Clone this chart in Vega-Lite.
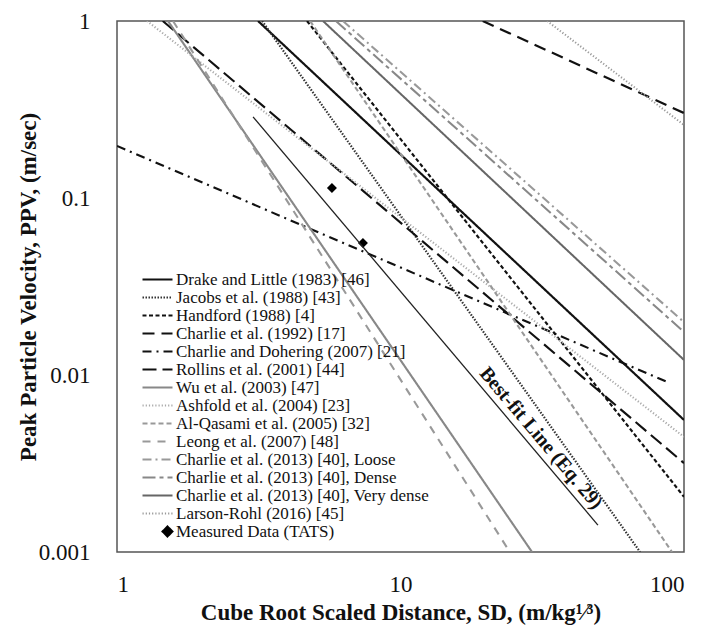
{
  "$schema": "https://vega.github.io/schema/vega-lite/v6.json",
  "width": 567,
  "height": 531,
  "autosize": {"type": "none"},
  "padding": {"left": 117, "top": 21, "right": 21, "bottom": 73},
  "background": "white",
  "config": {
    "font": "Liberation Serif",
    "view": {"stroke": "#555", "strokeWidth": 1.5},
    "axis": {
      "grid": false,
      "domain": false,
      "ticks": false,
      "labelFont": "Liberation Serif",
      "labelFontSize": 23,
      "labelColor": "#111",
      "titleFont": "Liberation Serif",
      "titleFontSize": 23,
      "titleFontWeight": "bold",
      "titleColor": "#111"
    },
    "legend": {
      "orient": "none", "legendX": 42, "legendY": 250,
      "title": null, "padding": 0,
      "labelFont": "Liberation Serif", "labelFontSize": 17, "labelColor": "#111",
      "labelLimit": 400, "symbolSize": 100, "rowPadding": 0, "labelOffset": 0
    }
  },
  "datasets": {
    "curves": [
      {"series": "Drake and Little (1983) [46]", "sd": 3.144, "ppv": 1},
      {"series": "Drake and Little (1983) [46]", "sd": 100, "ppv": 0.00557},
      {"series": "Jacobs et al. (1988) [43]", "sd": 3.25, "ppv": 1},
      {"series": "Jacobs et al. (1988) [43]", "sd": 70, "ppv": 0.001},
      {"series": "Handford (1988) [4]", "sd": 4.68, "ppv": 1},
      {"series": "Handford (1988) [4]", "sd": 100, "ppv": 0.00205},
      {"series": "Charlie et al. (1992) [17]", "sd": 19.5, "ppv": 1},
      {"series": "Charlie et al. (1992) [17]", "sd": 100, "ppv": 0.302},
      {"series": "Charlie and Dohering (2007) [21]", "sd": 1, "ppv": 0.197},
      {"series": "Charlie and Dohering (2007) [21]", "sd": 89.2, "ppv": 0.009},
      {"series": "Rollins et al. (2001) [44]", "sd": 1.45, "ppv": 1},
      {"series": "Rollins et al. (2001) [44]", "sd": 100, "ppv": 0.00318},
      {"series": "Wu et al. (2003) [47]", "sd": 1.513, "ppv": 1},
      {"series": "Wu et al. (2003) [47]", "sd": 29.1, "ppv": 0.001},
      {"series": "Ashfold et al. (2004) [23]", "sd": 1.276, "ppv": 1},
      {"series": "Ashfold et al. (2004) [23]", "sd": 100, "ppv": 0.00447},
      {"series": "Al-Qasami et al. (2005) [32]", "sd": 4.8, "ppv": 1},
      {"series": "Al-Qasami et al. (2005) [32]", "sd": 90.7, "ppv": 0.001},
      {"series": "Leong et al. (2007) [48]", "sd": 1.576, "ppv": 1},
      {"series": "Leong et al. (2007) [48]", "sd": 24.3, "ppv": 0.001},
      {"series": "Charlie et al. (2013) [40], Loose", "sd": 6.27, "ppv": 1},
      {"series": "Charlie et al. (2013) [40], Loose", "sd": 100, "ppv": 0.0199},
      {"series": "Charlie et al. (2013) [40], Dense", "sd": 5.92, "ppv": 1},
      {"series": "Charlie et al. (2013) [40], Dense", "sd": 100, "ppv": 0.0175},
      {"series": "Charlie et al. (2013) [40], Very dense", "sd": 5.33, "ppv": 1},
      {"series": "Charlie et al. (2013) [40], Very dense", "sd": 100, "ppv": 0.01216},
      {"series": "Larson-Rohl (2016) [45]", "sd": 32.9, "ppv": 1},
      {"series": "Larson-Rohl (2016) [45]", "sd": 100, "ppv": 0.2585}
    ],
    "measured": [
      {"series": "Measured Data (TATS)", "sd": 5.73, "ppv": 0.114},
      {"series": "Measured Data (TATS)", "sd": 7.37, "ppv": 0.0557}
    ],
    "bestfit": [
      {"sd": 3.02, "ppv": 0.287},
      {"sd": 49.7, "ppv": 0.00142}
    ],
    "annot": [
      {"sd": 31.3, "ppv": 0.0044, "label": "Best-fit Line (Eq. 29)"}
    ],
    "xticks": [
      {"sd": 2}, {"sd": 3}, {"sd": 4}, {"sd": 5}, {"sd": 6}, {"sd": 7}, {"sd": 8}, {"sd": 9},
      {"sd": 10}, {"sd": 20}, {"sd": 30}, {"sd": 40}, {"sd": 50}, {"sd": 60}, {"sd": 70}, {"sd": 80}, {"sd": 90}
    ],
    "yticks": [
      {"ppv": 0.002}, {"ppv": 0.003}, {"ppv": 0.004}, {"ppv": 0.005}, {"ppv": 0.006}, {"ppv": 0.007}, {"ppv": 0.008}, {"ppv": 0.009},
      {"ppv": 0.01}, {"ppv": 0.02}, {"ppv": 0.03}, {"ppv": 0.04}, {"ppv": 0.05}, {"ppv": 0.06}, {"ppv": 0.07}, {"ppv": 0.08}, {"ppv": 0.09},
      {"ppv": 0.1}, {"ppv": 0.2}, {"ppv": 0.3}, {"ppv": 0.4}, {"ppv": 0.5}, {"ppv": 0.6}, {"ppv": 0.7}, {"ppv": 0.8}, {"ppv": 0.9}
    ]
  },
  "encoding": {
    "x": {
      "field": "sd", "type": "quantitative",
      "scale": {"type": "log", "domain": [1, 100], "nice": false},
      "axis": {
        "orient": "bottom",
        "values": [1, 10, 100],
        "format": "~g",
        "labelPadding": 21,
        "titlePadding": 5,
        "title": "Cube Root Scaled Distance, SD, (m/kg¹⁄³)"
      }
    },
    "y": {
      "field": "ppv", "type": "quantitative",
      "scale": {"type": "log", "domain": [0.001, 1], "nice": false},
      "axis": {
        "orient": "left",
        "values": [0.001, 0.01, 0.1, 1],
        "format": "~g",
        "labelPadding": 27,
        "titlePadding": -2,
        "title": "Peak Particle Velocity, PPV,  (m/sec)"
      }
    }
  },
  "layer": [
    {
      "data": {"name": "curves"},
      "mark": {"type": "line", "clip": true},
      "encoding": {
        "detail": {"field": "series"},
        "color": {
          "field": "series", "type": "nominal",
          "scale": {
            "domain": ["Drake and Little (1983) [46]", "Jacobs et al. (1988) [43]", "Handford (1988) [4]", "Charlie et al. (1992) [17]", "Charlie and Dohering (2007) [21]", "Rollins et al. (2001) [44]", "Wu et al. (2003) [47]", "Ashfold et al. (2004) [23]", "Al-Qasami et al. (2005) [32]", "Leong et al. (2007) [48]", "Charlie et al. (2013) [40], Loose", "Charlie et al. (2013) [40], Dense", "Charlie et al. (2013) [40], Very dense", "Larson-Rohl (2016) [45]", "Measured Data (TATS)"],
            "range": ["#111111", "#333333", "#111111", "#111111", "#111111", "#111111", "#888888", "#aaaaaa", "#999999", "#999999", "#999999", "#888888", "#666666", "#999999", "#000000"]
          }
        },
        "strokeDash": {
          "field": "series", "type": "nominal",
          "scale": {
            "domain": ["Drake and Little (1983) [46]", "Jacobs et al. (1988) [43]", "Handford (1988) [4]", "Charlie et al. (1992) [17]", "Charlie and Dohering (2007) [21]", "Rollins et al. (2001) [44]", "Wu et al. (2003) [47]", "Ashfold et al. (2004) [23]", "Al-Qasami et al. (2005) [32]", "Leong et al. (2007) [48]", "Charlie et al. (2013) [40], Loose", "Charlie et al. (2013) [40], Dense", "Charlie et al. (2013) [40], Very dense", "Larson-Rohl (2016) [45]", "Measured Data (TATS)"],
            "range": [[1,0], [1.5,1.5], [4,2.5], [12,7], [9,5,2,5], [14,6], [1,0], [1.2,2], [5,3], [8,7], [9,4,2,4], [13,4,4,4], [1,0], [1.2,2], [1,0]]
          }
        },
        "strokeWidth": {
          "field": "series", "type": "nominal",
          "scale": {
            "domain": ["Drake and Little (1983) [46]", "Jacobs et al. (1988) [43]", "Handford (1988) [4]", "Charlie et al. (1992) [17]", "Charlie and Dohering (2007) [21]", "Rollins et al. (2001) [44]", "Wu et al. (2003) [47]", "Ashfold et al. (2004) [23]", "Al-Qasami et al. (2005) [32]", "Leong et al. (2007) [48]", "Charlie et al. (2013) [40], Loose", "Charlie et al. (2013) [40], Dense", "Charlie et al. (2013) [40], Very dense", "Larson-Rohl (2016) [45]", "Measured Data (TATS)"],
            "range": [2.2, 2, 2, 3.5, 2, 2.2, 1.8, 1.3, 1.8, 1.8, 1.8, 1.8, 2, 1.3, 1]
          }
        }
      }
    },
    {
      "data": {"name": "measured"},
      "mark": {"type": "point", "filled": true, "opacity": 1, "size": 100},
      "encoding": {
        "color": {"field": "series", "type": "nominal"},
        "shape": {
          "field": "series", "type": "nominal",
          "scale": {
            "domain": ["Drake and Little (1983) [46]", "Jacobs et al. (1988) [43]", "Handford (1988) [4]", "Charlie et al. (1992) [17]", "Charlie and Dohering (2007) [21]", "Rollins et al. (2001) [44]", "Wu et al. (2003) [47]", "Ashfold et al. (2004) [23]", "Al-Qasami et al. (2005) [32]", "Leong et al. (2007) [48]", "Charlie et al. (2013) [40], Loose", "Charlie et al. (2013) [40], Dense", "Charlie et al. (2013) [40], Very dense", "Larson-Rohl (2016) [45]", "Measured Data (TATS)"],
            "range": ["M-5,0H1", "M-5,0H1", "M-5,0H1", "M-5,0H1", "M-5,0H1", "M-5,0H1", "M-5,0H1", "M-5,0H1", "M-5,0H1", "M-5,0H1", "M-5,0H1", "M-5,0H1", "M-5,0H1", "M-5,0H1", "diamond"]
          }
        }
      }
    },
    {
      "data": {"name": "bestfit"},
      "mark": {"type": "line", "color": "#222", "strokeWidth": 1.3, "clip": true}
    },
    {
      "data": {"name": "xticks"},
      "mark": {"type": "rule", "strokeWidth": 3, "color": "red"},
      "encoding": {
        "y": {"datum": 0.001, "type": "quantitative"},
        "y2": {"datum": 0.0015}
      }
    },
    {
      "data": {"name": "xticks"},
      "mark": {"type": "line", "strokeWidth": 1.3, "color": "#555"},
      "encoding": {
        "y": {"datum": 1, "type": "quantitative"},
        "detail": {"field": "sd"}
      }
    },
    {
      "data": {"name": "yticks"},
      "mark": {"type": "rule", "strokeWidth": 1.3, "color": "#555"},
      "encoding": {
        "x": {"datum": 1, "type": "quantitative"},
        "x2": {"datum": 1.0628}
      }
    },
    {
      "data": {"name": "yticks"},
      "mark": {"type": "rule", "strokeWidth": 1.3, "color": "#555"},
      "encoding": {
        "x": {"datum": 100, "type": "quantitative"},
        "x2": {"datum": 94.09}
      }
    },
    {
      "data": {"name": "annot"},
      "mark": {"type": "text", "angle": 49.8, "font": "Liberation Serif", "fontWeight": "bold", "fontSize": 20, "color": "#111", "align": "center", "baseline": "middle"},
      "encoding": {
        "text": {"field": "label"}
      }
    }
  ]
}
